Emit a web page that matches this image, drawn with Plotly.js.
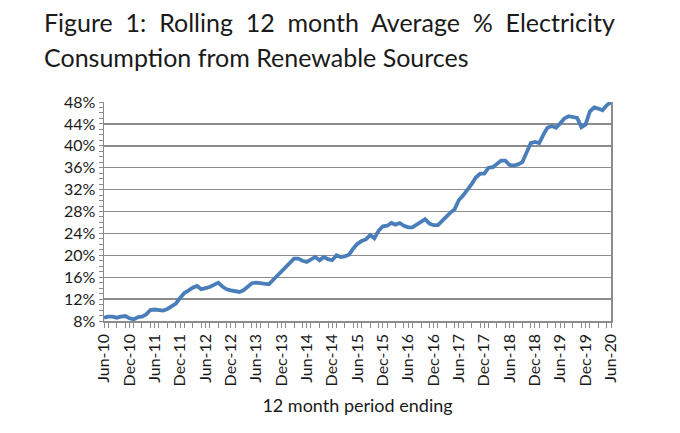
<!DOCTYPE html>
<html>
<head>
<meta charset="utf-8">
<script src="https://cdn.plot.ly/plotly-3.0.1.min.js"></script>
<style>
  html, body { margin: 0; padding: 0; background: #fff; }
  #plot { width: 680px; height: 433px; }
</style>
</head>
<body>
<div id="plot"></div>
<script>
// rolling 12 month average % renewable share, monthly from Jun-10 to Jun-20
var startYear = 2010, startMonth = 6;
var renewShare = [
  8.6, 8.8, 8.8, 8.6, 8.8, 8.9, 8.5, 8.3, 8.7, 8.8, 9.2, 10.0,
  10.1, 10.0, 9.9, 10.2, 10.6, 11.2, 12.2, 13.1, 13.6, 14.1, 14.4, 13.8,
  14.0, 14.2, 14.6, 15.0, 14.3, 13.8, 13.6, 13.4, 13.3, 13.6, 14.2, 14.9,
  15.0, 14.9, 14.9, 14.7, 15.5, 16.3, 17.2, 17.8, 18.7, 19.4, 19.4, 19.0,
  18.8, 19.3, 19.7, 19.1, 19.7, 19.3, 19.1, 20.0, 19.7, 19.8, 20.1, 21.2,
  22.1, 22.6, 22.9, 23.7, 23.1, 24.5, 25.3, 25.4, 25.9, 25.6, 25.9, 25.4,
  25.1, 25.1, 25.6, 26.3, 26.6, 25.8, 25.5, 25.5, 26.3, 27.1, 27.8, 28.4,
  30.1, 30.9, 31.9, 33.0, 34.2, 34.9, 34.9, 36.0, 36.1, 36.7, 37.3, 37.3,
  36.5, 36.4, 36.6, 37.0, 38.7, 40.5, 40.7, 40.5, 42.1, 43.3, 43.6, 43.3,
  44.1, 45.0, 45.4, 45.2, 45.1, 43.4, 43.9, 46.3, 47.0, 46.8, 46.5, 47.4,
  48.0
];

var months = [];
for (var i = 0; i < renewShare.length; i++) {
  var m = startMonth - 1 + i;
  var y = startYear + Math.floor(m / 12);
  var mm = (m % 12) + 1;
  months.push(y + '-' + (mm < 10 ? '0' + mm : mm) + '-01');
}

// title is justified in the original, so the first line gets wider gaps
var gap = '\u00a0\u00a0';
var titleLine1 = ['Figure', '1:', 'Rolling', '12', 'month', 'Average', '%', 'Electricity'].join(gap);
var titleLine2 = 'Consumption from Renewable Sources';

var gridCol = '#8c8c8c';
var textCol = '#1a1a1a';
var font = 'Lato, "Open Sans", sans-serif';

var trace = {
  type: 'scatter',
  mode: 'lines',
  x: months,
  y: renewShare,
  line: {color: '#4a7ebb', width: 3.8},
  hoverinfo: 'skip'
};

var layout = {
  width: 680,
  height: 433,
  paper_bgcolor: '#fff',
  plot_bgcolor: '#fff',
  margin: {l: 104, r: 69, t: 102, b: 112},
  showlegend: false,
  font: {family: font, color: textCol},
  annotations: [
    {text: titleLine1, xref: 'paper', yref: 'paper', x: -62 / 507, y: 1 + 80 / 219,
     xanchor: 'left', yanchor: 'middle', showarrow: false, font: {size: 25, color: textCol}},
    {text: titleLine2, xref: 'paper', yref: 'paper', x: -62 / 507, y: 1 + 45 / 219,
     xanchor: 'left', yanchor: 'middle', showarrow: false, font: {size: 25, color: textCol}}
  ],
  xaxis: {
    type: 'date',
    range: ['2010-06-01', '2020-06-01'],
    tick0: '2010-06-01',
    dtick: 'M6',
    tickformat: '%b-%y',
    tickangle: -90,
    tickfont: {size: 16, color: textCol},
    ticks: 'outside',
    ticklen: 5,
    tickcolor: gridCol,
    minor: {dtick: 'M2', ticks: 'outside', ticklen: 5, tickcolor: gridCol},
    showgrid: false,
    showline: true,
    linecolor: gridCol,
    linewidth: 1.5,
    zeroline: false,
    title: {text: '12 month period ending', font: {size: 18, color: textCol}, standoff: 14}
  },
  yaxis: {
    range: [8, 48],
    tick0: 8,
    dtick: 4,
    ticksuffix: '%',
    tickfont: {size: 16, color: textCol},
    ticks: 'outside',
    ticklen: 4,
    tickcolor: gridCol,
    minor: {dtick: 1, ticks: 'outside', ticklen: 4, tickcolor: gridCol},
    showgrid: true,
    gridcolor: gridCol,
    gridwidth: 1.4,
    showline: true,
    mirror: true,
    linecolor: gridCol,
    linewidth: 1.5,
    zeroline: false
  }
};

Plotly.newPlot('plot', [trace], layout, {staticPlot: true, displayModeBar: false});
</script>
</body>
</html>
